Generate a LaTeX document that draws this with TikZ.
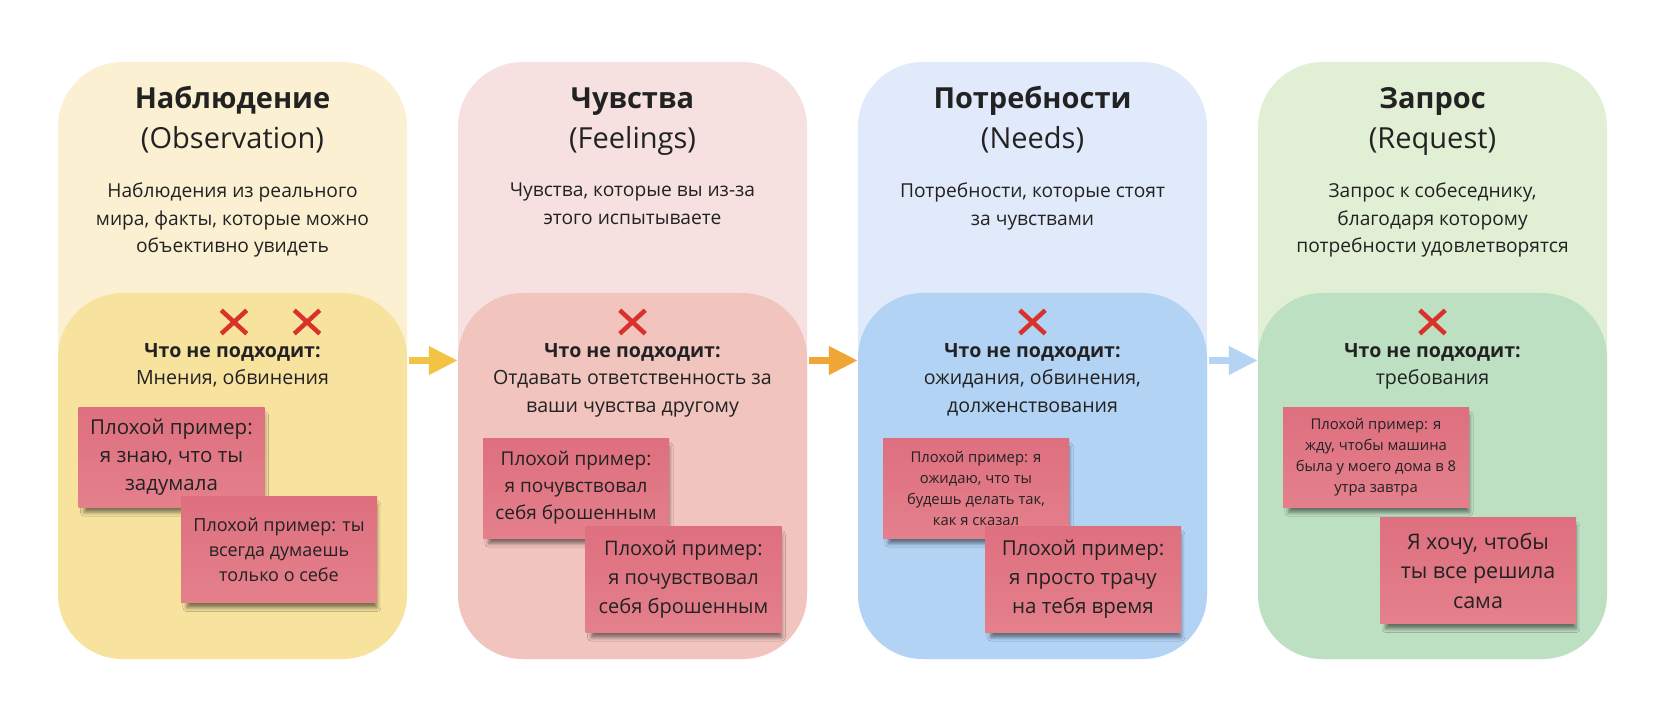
\documentclass[tikz,border=0pt]{standalone}
\usepackage{fontspec}
\setmainfont{Open Sans}
\usepackage{xcolor}
\usepackage{tikz}
\usetikzlibrary{arrows.meta,positioning,shapes.misc,shadows.blur}
\definecolor{ink}{HTML}{222222}
\definecolor{obsout}{HTML}{FCF0D3}
\definecolor{obsin}{HTML}{F7E29E}
\definecolor{feelout}{HTML}{F6E1E0}
\definecolor{feelin}{HTML}{F1C4BE}
\definecolor{needout}{HTML}{E0EAFB}
\definecolor{needin}{HTML}{B3D3F5}
\definecolor{reqout}{HTML}{E1EFD4}
\definecolor{reqin}{HTML}{BDE0C2}
\definecolor{arrowA}{HTML}{F3C444}
\definecolor{arrowB}{HTML}{F0A637}
\definecolor{arrowC}{HTML}{B5D3F2}
\definecolor{crossred}{HTML}{D8322A}
\definecolor{stickytop}{HTML}{DE6F7F}
\definecolor{stickybot}{HTML}{E4808C}

\begin{document}
\begin{tikzpicture}[
  x=1pt, y=-1pt,
  font=\fontsize{19.2}{27.5}\selectfont, text=ink,
  panel/.style={rounded corners=65pt, minimum width=349pt, minimum height=597pt, inner sep=0pt},
  lowpanel/.style={rounded corners=65pt, minimum width=349pt, minimum height=366pt, inner sep=0pt},
  ttl/.style={font=\fontsize{29}{34}\selectfont\bfseries, anchor=base},
  sub/.style={font=\fontsize{29}{34}\selectfont, anchor=base},
  desc/.style={align=center, anchor=north, inner sep=0pt},
  donot/.style={align=center, anchor=north, inner sep=0pt, font=\fontsize{19.6}{27.5}\selectfont},
  nope/.style={cross out, draw=crossred, line width=4.5pt, minimum width=21pt, minimum height=19pt, inner sep=0pt},
  sticky/.style={top color=stickytop, bottom color=stickybot, align=center, inner sep=0pt,
    blur shadow={shadow xshift=3pt, shadow yshift=-7pt, shadow scale=0.97, shadow opacity=50, shadow blur radius=4pt}},
  notea/.style={sticky, minimum width=186pt, minimum height=100pt},
  noteb/.style={sticky, minimum width=196pt, minimum height=106pt},
  flow/.style={line width=7pt, -{Triangle[length=29pt,width=27pt]}, shorten <=2pt}
]
\useasboundingbox (0,0) rectangle (1670,708);
\fill[white] (0,0) rectangle (1670,708);

\foreach \i/\co/\ci in {0/obsout/obsin,1/feelout/feelin,2/needout/needin,3/reqout/reqin} {
  \node[panel, fill=\co] (p\i) at (232.5+400*\i,360.5) {};
  \node[lowpanel, fill=\ci] (q\i) at (232.5+400*\i,476) {};
}
\foreach \i/\j/\c in {0/1/arrowA,1/2/arrowB,2/3/arrowC} {
  \draw[flow, draw=\c] (p\i.east) -- (p\j.west);
}

\node[ttl] (t0) at (232.5,109) {Наблюдение};
\node[sub] (s0) at (232.5,149) {(Observation)};
\node[desc] (d0) at (232.5,183) {Наблюдения из реального\\мира, факты, которые можно\\объективно увидеть};
\node[nope] (x0) at (234,322) {};
\node[nope] (x0b) at (307,322) {};
\node[donot] (b0) at (232.5,343) {{\bfseries Что не подходит:}\\Мнения, обвинения};
\node[notea, font=\fontsize{20.5}{28}\selectfont] (n0a) at (171.5,457) {Плохой пример:\\я знаю, что ты\\задумала};
\node[noteb, font=\fontsize{18}{25}\selectfont] (n0b) at (279,549.5) {Плохой пример: ты\\всегда думаешь\\только о себе};

\node[ttl] (t1) at (632.5,109) {Чувства};
\node[sub] (s1) at (632.5,149) {(Feelings)};
\node[desc] (d1) at (632.5,183) {Чувства, которые вы из-за\\этого испытываете};
\node[nope] (x1) at (632.5,322) {};
\node[donot] (b1) at (632.5,343) {{\bfseries Что не подходит:}\\Отдавать ответственность за\\ваши чувства другому};
\node[notea, font=\fontsize{19}{27}\selectfont] (n1a) at (576,488) {Плохой пример:\\я почувствовал\\себя брошенным};
\node[noteb, font=\fontsize{20}{29}\selectfont] (n1b) at (683.5,579) {Плохой пример:\\я почувствовал\\себя брошенным};

\node[ttl] (t2) at (1032.5,109) {Потребности};
\node[sub] (s2) at (1032.5,149) {(Needs)};
\node[desc] (d2) at (1032.5,183) {Потребности, которые стоят\\за чувствами};
\node[nope] (x2) at (1032.5,322) {};
\node[donot] (b2) at (1032.5,343) {{\bfseries Что не подходит:}\\ожидания, обвинения,\\долженствования};
\node[notea, font=\fontsize{14.8}{21}\selectfont] (n2a) at (976,488) {Плохой пример: я\\ожидаю, что ты\\будешь делать так,\\как я сказал};
\node[noteb, font=\fontsize{20.5}{29}\selectfont] (n2b) at (1083,579) {Плохой пример:\\я просто трачу\\на тебя время};

\node[ttl] (t3) at (1432.5,109) {Запрос};
\node[sub] (s3) at (1432.5,149) {(Request)};
\node[desc] (d3) at (1432.5,183) {Запрос к собеседнику,\\благодаря которому\\потребности удовлетворятся};
\node[nope] (x3) at (1432.5,322) {};
\node[donot] (b3) at (1432.5,343) {{\bfseries Что не подходит:}\\требования};
\node[notea, font=\fontsize{14.8}{21}\selectfont] (n3a) at (1376,457) {Плохой пример: я\\жду, чтобы машина\\была у моего дома в 8\\утра завтра};
\node[noteb, font=\fontsize{21.5}{29.5}\selectfont] (n3b) at (1478,570.5) {Я хочу, чтобы\\ты все решила\\сама};
\end{tikzpicture}
\end{document}
